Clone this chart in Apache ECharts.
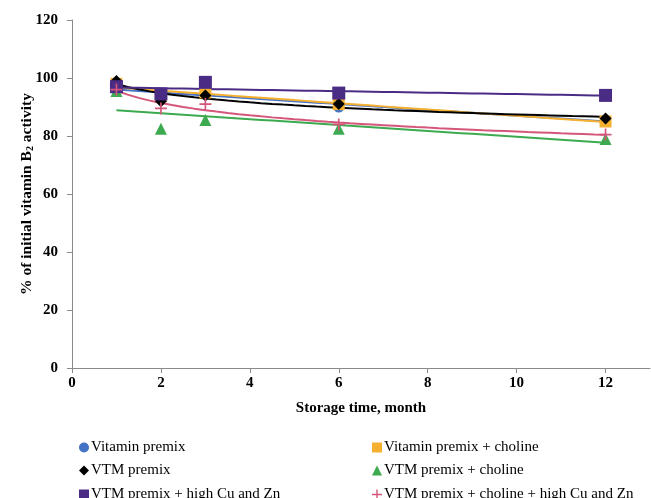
<!DOCTYPE html>
<html>
<head>
<meta charset="utf-8">
<script src="https://cdn.jsdelivr.net/npm/echarts@6/dist/echarts.min.js"></script>
<style>
html,body{margin:0;padding:0;background:#fff;}
#chart{width:651px;height:498px;}
</style>
</head>
<body>
<div id="chart"></div>
<script>
// Storage months at which vitamin B2 activity was measured
var months = [1, 2, 3, 6, 12];

// % of initial vitamin B2 activity for each premix
var vitaminPremix          = [97.5, 93.5, 94.5, 90, 85.5];
var vitaminPremixCholine   = [98, 94, 95, 91, 85];
var vtmPremix              = [99, 92, 94, 91, 86];
var vtmPremixCholine       = [95.5, 82.5, 85.5, 82.5, 79];
var vtmPremixHighCuZn      = [97, 94.5, 98.5, 94.8, 94];
var vtmPremixCholineCuZn   = [96, 89.5, 91, 84, 80.5];

var xTicks = [0, 2, 4, 6, 8, 10, 12];

var FONT = '"Liberation Serif","Times New Roman",serif';
var PLUS = 'path://M4.3,0H5.7V4.3H10V5.7H5.7V10H4.3V5.7H0V4.3H4.3Z';

// least-squares trend line: linear in x, or logarithmic (linear in ln x)
function trend(ys, kind) {
  var tx = months.map(function (m) { return kind === 'log' ? Math.log(m) : m; });
  var n = tx.length, mx = 0, my = 0;
  for (var i = 0; i < n; i++) { mx += tx[i]; my += ys[i]; }
  mx /= n; my /= n;
  var sxx = 0, sxy = 0;
  for (i = 0; i < n; i++) { sxx += (tx[i] - mx) * (tx[i] - mx); sxy += (tx[i] - mx) * (ys[i] - my); }
  var b = sxy / sxx, a = my - b * mx;
  var pts = [];
  for (var m = months[0]; m <= months[n - 1] + 1e-9; m += 0.25) {
    var t = kind === 'log' ? Math.log(m) : m;
    pts.push([m, a + b * t]);
  }
  return pts;
}

var groups = [
  {name: 'Vitamin premix', ys: vitaminPremix, color: '#4472C4', symbol: 'circle', size: 11, fit: 'linear'},
  {name: 'Vitamin premix + choline', ys: vitaminPremixCholine, color: '#F6B030', symbol: 'rect', size: 12, fit: 'linear'},
  {name: 'VTM premix', ys: vtmPremix, color: '#000000', symbol: 'diamond', size: 12, fit: 'log'},
  {name: 'VTM premix + choline', ys: vtmPremixCholine, color: '#3DAA4F', symbol: 'triangle', size: 12, fit: 'linear'},
  {name: 'VTM premix + high Cu and Zn', ys: vtmPremixHighCuZn, color: '#4B2C85', symbol: 'rect', size: 13, fit: 'linear'},
  {name: 'VTM premix + choline + high Cu and Zn', ys: vtmPremixCholineCuZn, color: '#D4577B', symbol: PLUS, size: 12, fit: 'log'}
];

var series = [];
groups.forEach(function (g, i) {
  series.push({
    type: 'line', data: trend(g.ys, g.fit), showSymbol: false, silent: true,
    lineStyle: {color: g.color, width: 2}, z: 2 + i * 0.01
  });
});
groups.forEach(function (g, i) {
  series.push({
    name: g.name, type: 'scatter', symbol: g.symbol, symbolSize: g.size,
    itemStyle: {color: g.color, opacity: 1},
    data: months.map(function (m, k) { return [m, g.ys[k]]; }),
    z: 5 + i
  });
});

// legend laid out in two columns of three rows
var legendCols = [74, 367];
var legendRows = [435, 458, 482];
var legends = groups.map(function (g, i) {
  return {
    left: legendCols[i % 2], top: legendRows[Math.floor(i / 2)],
    itemWidth: 10, itemHeight: 10, itemGap: 0, selectedMode: false,
    data: [{name: g.name, itemStyle: {opacity: 1}}],
    textStyle: {fontFamily: FONT, fontSize: 15, color: '#000', padding: [0, 0, 0, -3]}
  };
});

var chart = echarts.init(document.getElementById('chart'), null, {renderer: 'canvas'});
chart.setOption({
  animation: false,
  backgroundColor: '#fff',
  grid: {left: 72, top: 20, width: 578, height: 348, containLabel: false},
  xAxis: {
    type: 'value', min: 0, max: 13, interval: 2,
    name: 'Storage time, month', nameLocation: 'middle', nameGap: 33,
    nameTextStyle: {fontFamily: FONT, fontSize: 15, fontWeight: 'bold', color: '#000'},
    axisLine: {show: true, lineStyle: {color: '#8a8a8a', width: 1}},
    axisTick: {show: true, length: 5, lineStyle: {color: '#8a8a8a'}, customValues: xTicks},
    axisLabel: {fontFamily: FONT, fontSize: 15, fontWeight: 'bold', color: '#000', margin: 8, customValues: xTicks},
    splitLine: {show: false}
  },
  yAxis: {
    type: 'value', min: 0, max: 120, interval: 20,
    name: '% of initial vitamin B{sub|2} activity', nameLocation: 'middle', nameGap: 37,
    nameMoveOverlap: false,
    nameTextStyle: {
      fontFamily: FONT, fontSize: 15.5, fontWeight: 'bold', color: '#000',
      rich: {sub: {fontFamily: FONT, fontSize: 10, fontWeight: 'bold', color: '#000', verticalAlign: 'bottom', padding: [6, 0, 0, 0]}}
    },
    axisLine: {show: true, lineStyle: {color: '#8a8a8a', width: 1}},
    axisTick: {show: true, length: 5, lineStyle: {color: '#8a8a8a'}},
    axisLabel: {fontFamily: FONT, fontSize: 15, fontWeight: 'bold', color: '#000', margin: 14},
    splitLine: {show: false}
  },
  legend: legends,
  series: series
});
</script>
</body>
</html>
